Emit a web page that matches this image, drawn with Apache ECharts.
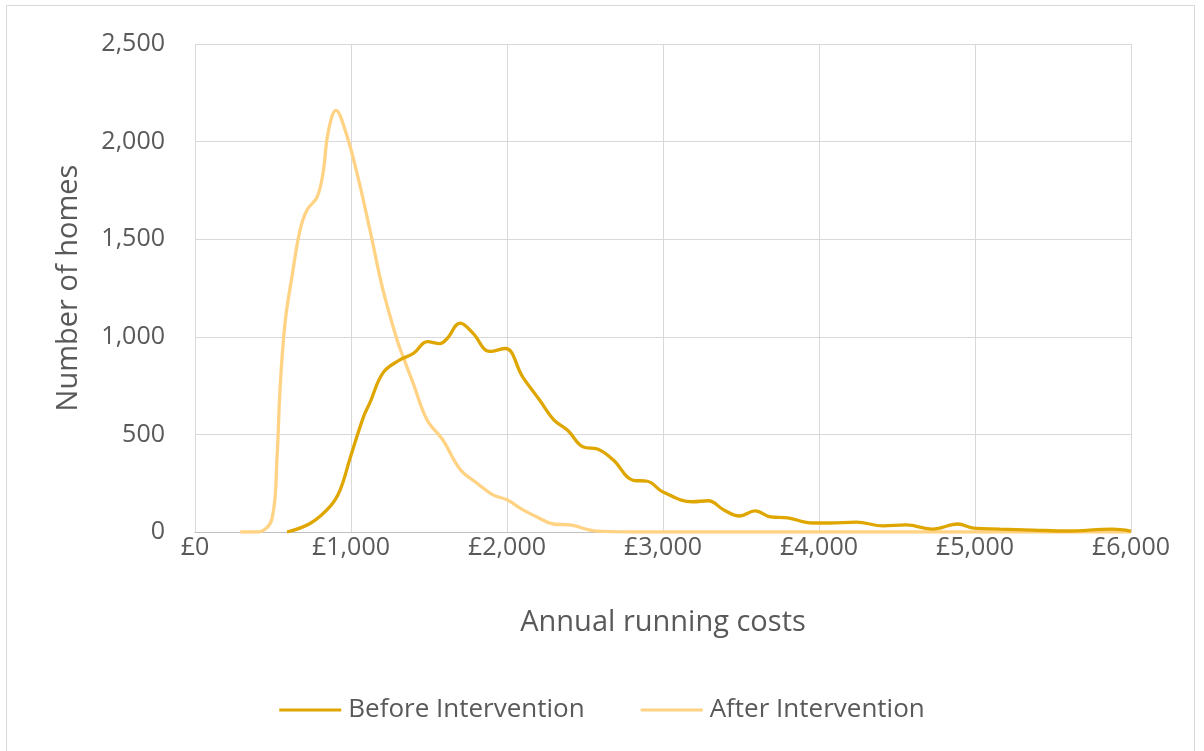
<!DOCTYPE html>
<html>
<head>
<meta charset="utf-8">
<title>Annual running costs</title>
<script src="https://cdn.jsdelivr.net/npm/echarts@6/dist/echarts.min.js"></script>
<style>
  html, body { margin: 0; padding: 0; background: #ffffff; }
  #frame { position: absolute; left: 6px; top: 5px; width: 1189px; height: 780px; border: 1px solid #d9d9d9; box-sizing: border-box; }
  #chart { position: absolute; left: 0; top: 0; width: 1204px; height: 751px; }
</style>
</head>
<body>
<div id="frame"></div>
<div id="chart"></div>
<script>
// Distribution of homes by annual running cost (£)
const beforeCosts = [590, 740, 865, 930, 995, 1080, 1120, 1205, 1310, 1400, 1490, 1570, 1615, 1700, 1780, 1890, 1990, 2100, 2210, 2300, 2390, 2490, 2580, 2680, 2810, 2900, 3000, 3190, 3290, 3390, 3490, 3590, 3690, 3800, 3960, 4070, 4240, 4410, 4560, 4730, 4890, 4990, 5160, 5370, 5590, 5880, 6000];
const beforeHomes = [0, 45, 130, 215, 380, 590, 660, 815, 880, 915, 975, 965, 990, 1070, 1020, 925, 940, 795, 675, 575, 520, 435, 425, 370, 265, 260, 205, 155, 160, 113, 82, 108, 77, 72, 46, 46, 51, 31, 36, 15, 41, 20, 15, 10, 5, 15, 5];

const afterCosts = [290, 400, 494, 526, 545, 577, 622, 673, 718, 782, 821, 853, 904, 962, 1038, 1122, 1205, 1295, 1333, 1397, 1487, 1590, 1700, 1808, 1910, 2000, 2103, 2192, 2295, 2404, 2577, 2920, 3500, 4000, 4500, 5000, 5500, 6000];
const afterHomes = [0, 0, 70, 385, 730, 1070, 1310, 1545, 1650, 1715, 1840, 2045, 2160, 2060, 1840, 1545, 1240, 985, 900, 765, 575, 470, 320, 250, 190, 165, 113, 77, 41, 36, 5, 0, 0, 0, 0, 0, 0, 0];

const xTicks = [0, 1000, 2000, 3000, 4000, 5000, 6000];
const yTicks = [0, 500, 1000, 1500, 2000, 2500];

const seriesNames = ['Before Intervention', 'After Intervention'];
const seriesColors = ['#DFA600', '#FFD284'];

const pair = (xs, ys) => xs.map((x, i) => [x, ys[i]]);
const fmt = v => v.toLocaleString('en-GB');
const FONT = '"Open Sans", sans-serif';

const chart = echarts.init(document.getElementById('chart'), null, { renderer: 'canvas' });
chart.setOption({
  animation: false,
  textStyle: { fontFamily: FONT },
  grid: { left: 195, right: 73, top: 44, bottom: 219, containLabel: false },
  xAxis: {
    type: 'value',
    min: xTicks[0],
    max: xTicks[xTicks.length - 1],
    interval: xTicks[1] - xTicks[0],
    name: 'Annual running costs',
    nameLocation: 'middle',
    nameGap: 76,
    nameTextStyle: { color: '#595959', fontSize: 29, fontFamily: FONT },
    axisLine: { show: true, lineStyle: { color: '#bfbfbf', width: 1 } },
    axisTick: { show: false },
    axisLabel: { color: '#595959', fontSize: 25, margin: 3, formatter: v => '£' + fmt(v), fontFamily: FONT },
    splitLine: { show: true, lineStyle: { color: '#d9d9d9', width: 1 } }
  },
  yAxis: {
    type: 'value',
    min: yTicks[0],
    max: yTicks[yTicks.length - 1],
    interval: yTicks[1] - yTicks[0],
    name: 'Number of homes',
    nameLocation: 'middle',
    nameGap: 112,
    nameTextStyle: { color: '#595959', fontSize: 29, fontFamily: FONT },
    axisLine: { show: false },
    axisTick: { show: false },
    axisLabel: { color: '#595959', fontSize: 25, margin: 30, formatter: v => fmt(v), fontFamily: FONT },
    splitLine: { show: true, lineStyle: { color: '#d9d9d9', width: 1 } }
  },
  legend: {
    top: 692,
    left: 'center',
    icon: 'rect',
    itemWidth: 62,
    itemHeight: 3,
    itemGap: 56,
    textStyle: { color: '#595959', fontSize: 26, fontFamily: FONT, padding: [0, 0, 0, 2] },
    data: seriesNames
  },
  series: [
    {
      name: seriesNames[0],
      type: 'line',
      data: pair(beforeCosts, beforeHomes),
      smooth: 0.4,
      showSymbol: false,
      symbol: 'none',
      z: 3,
      lineStyle: { color: seriesColors[0], width: 3.3 },
      itemStyle: { color: seriesColors[0] }
    },
    {
      name: seriesNames[1],
      type: 'line',
      data: pair(afterCosts, afterHomes),
      smooth: 0.4,
      showSymbol: false,
      symbol: 'none',
      z: 2,
      lineStyle: { color: seriesColors[1], width: 3.3 },
      itemStyle: { color: seriesColors[1] }
    }
  ]
});
</script>
</body>
</html>
